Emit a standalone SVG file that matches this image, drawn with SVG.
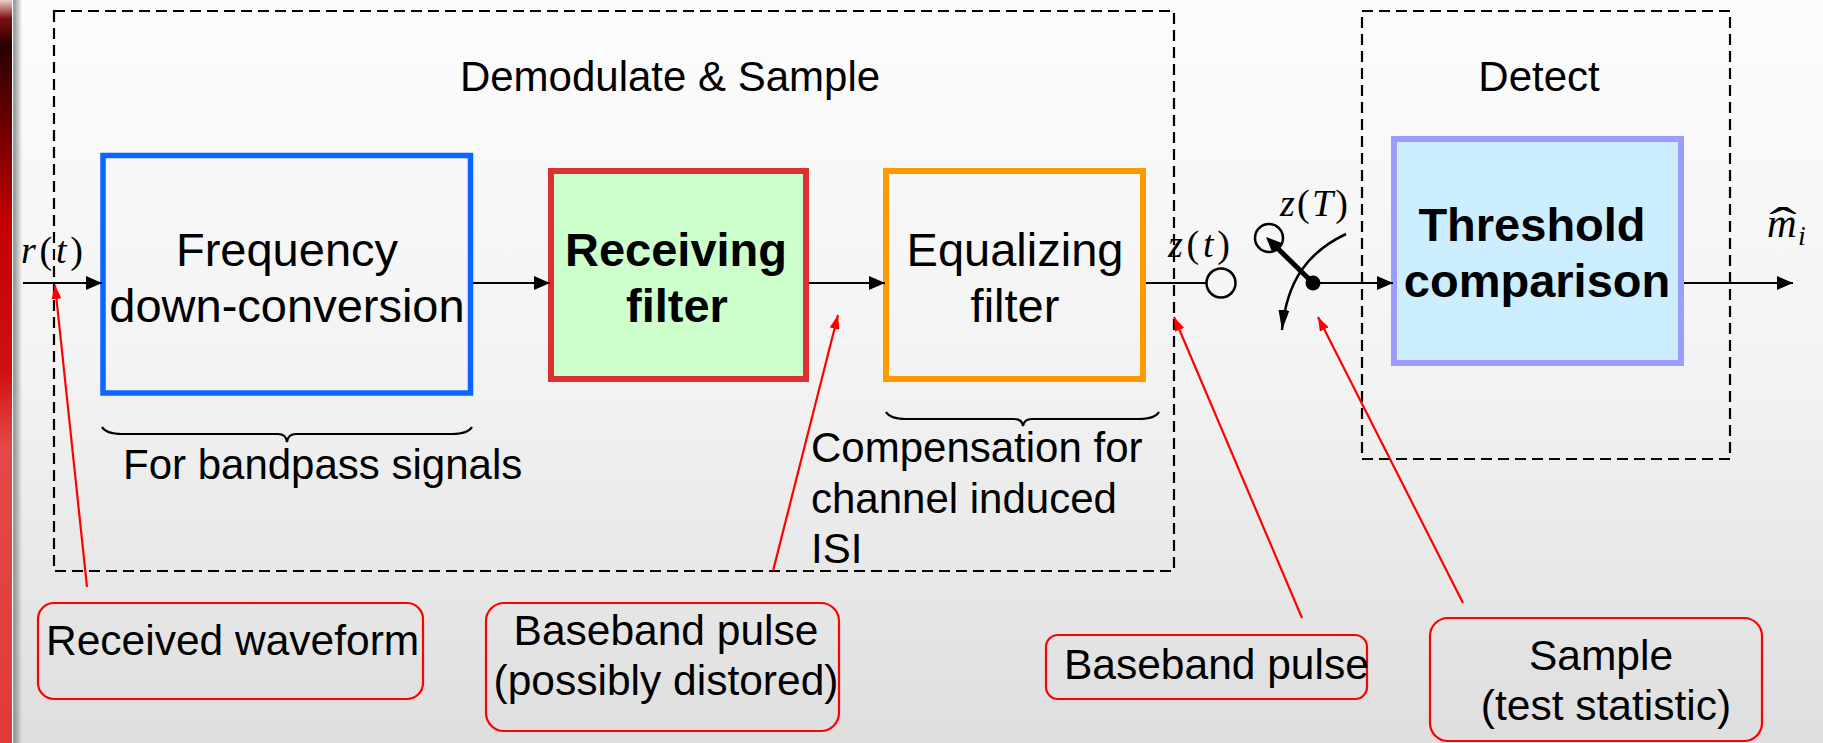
<svg xmlns="http://www.w3.org/2000/svg" width="1823" height="743" viewBox="0 0 1823 743">
  <defs>
    <linearGradient id="bg" x1="0" y1="0" x2="0" y2="1">
      <stop offset="0" stop-color="#fcfcfc"/>
      <stop offset="0.5" stop-color="#f3f3f3"/>
      <stop offset="1" stop-color="#dedede"/>
    </linearGradient>
    <linearGradient id="strip" x1="0" y1="0" x2="0" y2="1">
      <stop offset="0" stop-color="#f2cfc6"/>
      <stop offset="0.025" stop-color="#7a1010"/>
      <stop offset="0.06" stop-color="#2a0000"/>
      <stop offset="0.14" stop-color="#5a0000"/>
      <stop offset="0.3" stop-color="#c40000"/>
      <stop offset="0.5" stop-color="#d01010"/>
      <stop offset="0.6" stop-color="#e54848"/>
      <stop offset="1" stop-color="#e03a3a"/>
    </linearGradient>
    <linearGradient id="shade" x1="0" y1="0" x2="1" y2="0">
      <stop offset="0" stop-color="#8a8a8a"/>
      <stop offset="1" stop-color="#8a8a8a" stop-opacity="0"/>
    </linearGradient>
    <marker id="ah" markerUnits="userSpaceOnUse" markerWidth="16" markerHeight="14" refX="16" refY="7" orient="auto" viewBox="0 0 16 14">
      <path d="M0,0 L16,7 L0,14 z" fill="#000"/>
    </marker>
    <marker id="ah-arm" markerUnits="userSpaceOnUse" markerWidth="16" markerHeight="14" refX="4" refY="7" orient="auto" viewBox="0 0 16 14">
      <path d="M0,0 L16,7 L0,14 z" fill="#000"/>
    </marker>
    <marker id="ah-narrow" markerUnits="userSpaceOnUse" markerWidth="20" markerHeight="11" refX="20" refY="5.5" orient="auto" viewBox="0 0 20 11">
      <path d="M0,0 L20,5.5 L0,11 z" fill="#000"/>
    </marker>
    <marker id="ah-red" markerUnits="userSpaceOnUse" markerWidth="14" markerHeight="10" refX="14" refY="5" orient="auto" viewBox="0 0 14 10">
      <path d="M0,0 L14,5 L0,10 z" fill="#ff0000"/>
    </marker>
    <style>
      .t { font-family: "Liberation Sans", Arial, sans-serif; fill: #000; }
      .box { font-size: 47px; text-anchor: middle; }
      .bold { font-weight: bold; }
      .title { font-size: 42px; text-anchor: middle; }
      .note { font-size: 42.5px; }
      .m { font-family: "Liberation Serif", "Times New Roman", serif; font-size: 38px; fill: #000; }
      .it { font-style: italic; }
      .group { fill: none; stroke: #000; stroke-width: 2.2; stroke-dasharray: 11 6; }
      .wire { fill: none; stroke: #000; stroke-width: 2.2; }
      .call { fill: none; stroke: #ff0000; stroke-width: 2.2; }
      .callbox { fill: none; stroke: #ff0000; stroke-width: 2.2; }
    </style>
  </defs>

  <!-- page background and left edge band -->
  <rect x="0" y="0" width="1823" height="743" fill="url(#bg)"/>
  <rect x="0" y="0" width="12" height="743" fill="url(#strip)"/>
  <rect x="12" y="0" width="1.2" height="743" fill="#ffffff"/>
  <rect x="13.2" y="0" width="9" height="743" fill="url(#shade)"/>

  <!-- dashed grouping frames -->
  <g id="group-demodulate">
    <rect class="group" x="54" y="11" width="1120" height="560"/>
    <text class="t title" x="670" y="91">Demodulate &amp; Sample</text>
  </g>
  <g id="group-detect">
    <rect class="group" x="1362" y="11" width="368" height="448"/>
    <text class="t title" x="1539" y="91">Detect</text>
  </g>

  <!-- processing blocks -->
  <g id="node-downconversion">
    <rect x="103" y="155.5" width="367.5" height="237.5" fill="none" stroke="#0a66ff" stroke-width="5.5"/>
    <text class="t box" x="287" y="266">Frequency</text>
    <text class="t box" x="287" y="322">down-conversion</text>
  </g>
  <g id="node-receiving-filter">
    <rect x="551" y="171" width="255" height="208" fill="#ccffcc" stroke="#dd3030" stroke-width="6"/>
    <text class="t box bold" x="676" y="266">Receiving</text>
    <text class="t box bold" x="677" y="322">filter</text>
  </g>
  <g id="node-equalizing-filter">
    <rect x="886" y="171" width="257" height="208" fill="none" stroke="#ff9900" stroke-width="6"/>
    <text class="t box" x="1015" y="266">Equalizing</text>
    <text class="t box" x="1015" y="322">filter</text>
  </g>
  <g id="node-threshold">
    <rect x="1394" y="139" width="287" height="224" fill="#cdeeff" stroke="#9c9cff" stroke-width="6"/>
    <text class="t box bold" x="1532" y="241">Threshold</text>
    <text class="t box bold" x="1537" y="297">comparison</text>
  </g>

  <!-- sampling switch -->
  <g id="node-sampler">
    <circle cx="1221" cy="283" r="14.5" fill="none" stroke="#000" stroke-width="2.5"/>
    <circle cx="1269" cy="238" r="14" fill="none" stroke="#000" stroke-width="2.5"/>
    <circle cx="1313" cy="283" r="7.5" fill="#000"/>
    <line x1="1313" y1="283" x2="1274.6" y2="245.4" stroke="#000" stroke-width="5" marker-end="url(#ah-arm)"/>
    <path d="M1346,234 C1308,252 1287,280 1282,330" fill="none" stroke="#000" stroke-width="2.5" marker-end="url(#ah-narrow)"/>
  </g>

  <!-- signal path -->
  <g id="connectors">
    <line class="wire" x1="23" y1="283" x2="102" y2="283" marker-end="url(#ah)"/>
    <line class="wire" x1="473" y1="283" x2="550" y2="283" marker-end="url(#ah)"/>
    <line class="wire" x1="809" y1="283" x2="885" y2="283" marker-end="url(#ah)"/>
    <line class="wire" x1="1146" y1="283" x2="1206.5" y2="283"/>
    <line class="wire" x1="1313" y1="283" x2="1393" y2="283" marker-end="url(#ah)"/>
    <line class="wire" x1="1684" y1="283" x2="1793" y2="283" marker-end="url(#ah)"/>
  </g>

  <!-- signal names -->
  <g id="signal-labels">
    <text class="m" x="21" y="263" textLength="62" lengthAdjust="spacing"><tspan class="it">r</tspan>(<tspan class="it">t</tspan>)</text>
    <text class="m" x="1168" y="257" textLength="62" lengthAdjust="spacing"><tspan class="it">z</tspan>(<tspan class="it">t</tspan>)</text>
    <text class="m" x="1280" y="216" textLength="68" lengthAdjust="spacing"><tspan class="it">z</tspan>(<tspan class="it">T</tspan>)</text>
    <text class="m it" x="1767" y="237" style="font-size:41px">m</text>
    <text class="m it" x="1798" y="245" style="font-size:28px">i</text>
    <text class="m" x="0" y="0" style="font-size:46px" text-anchor="middle" transform="translate(1783,240) scale(1.8,1)">ˆ</text>
  </g>

  <!-- braces under blocks -->
  <g id="braces">
    <path class="wire" d="M102,427 Q106,434 122,434 L278,434 Q286,434 287,442 Q288,434 296,434 L452,434 Q468,434 472,427"/>
    <text class="t title" x="123" y="479" style="text-anchor:start">For bandpass signals</text>
    <path class="wire" d="M886,412 Q890,419 906,419 L1014,419 Q1022,419 1023,426 Q1024,419 1032,419 L1139,419 Q1155,419 1159,412"/>
    <text class="t title" x="811" y="462" style="text-anchor:start">Compensation for</text>
    <text class="t title" x="811" y="513" style="text-anchor:start">channel induced</text>
    <text class="t title" x="811" y="563" style="text-anchor:start">ISI</text>
  </g>

  <!-- callouts -->
  <g id="callout-received">
    <line class="call" x1="87" y1="587" x2="55" y2="285" marker-end="url(#ah-red)"/>
    <rect class="callbox" x="38" y="603" width="385" height="96" rx="16"/>
    <text class="t note" x="46" y="655">Received waveform</text>
  </g>
  <g id="callout-distorted">
    <line class="call" x1="773" y1="571" x2="838" y2="315" marker-end="url(#ah-red)"/>
    <rect class="callbox" x="486" y="603" width="353" height="128" rx="18"/>
    <text class="t note" x="666" y="645" text-anchor="middle">Baseband pulse</text>
    <text class="t note" x="666" y="695" text-anchor="middle">(possibly distored)</text>
  </g>
  <g id="callout-baseband">
    <line class="call" x1="1302" y1="618" x2="1174" y2="317" marker-end="url(#ah-red)"/>
    <rect class="callbox" x="1046" y="635" width="321" height="64" rx="12"/>
    <text class="t note" x="1064" y="679">Baseband pulse</text>
  </g>
  <g id="callout-sample">
    <line class="call" x1="1463" y1="603" x2="1318" y2="317" marker-end="url(#ah-red)"/>
    <rect class="callbox" x="1430" y="618" width="332" height="123" rx="18"/>
    <text class="t note" x="1601" y="670" text-anchor="middle">Sample</text>
    <text class="t note" x="1606" y="720" text-anchor="middle">(test statistic)</text>
  </g>
</svg>
